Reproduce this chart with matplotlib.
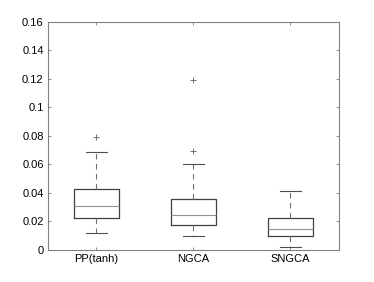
import matplotlib
matplotlib.use("Agg")
import matplotlib.pyplot as plt
from matplotlib.ticker import FuncFormatter

categories = ["PP(tanh)", "NGCA", "SNGCA"]
q1 = [0.0225, 0.0172, 0.0095]
medians = [0.0305, 0.0245, 0.0145]
q3 = [0.0425, 0.0355, 0.0225]
whislo = [0.0122, 0.0095, 0.0020]
whishi = [0.0685, 0.0600, 0.0410]
fliers = [[0.079], [0.0695, 0.119], []]
yticks = [0, 0.02, 0.04, 0.06, 0.08, 0.1, 0.12, 0.14, 0.16]

plt.rcParams['font.family'] = ['Liberation Sans', 'DejaVu Sans']

fig = plt.figure(figsize=(3.74, 2.82), dpi=100)
ax = fig.add_axes([0.128, 0.1135, 0.778, 0.81])

stats = []
for i, name in enumerate(categories):
    stats.append(dict(label=name, q1=q1[i], med=medians[i], q3=q3[i],
                      whislo=whislo[i], whishi=whishi[i], fliers=fliers[i]))

box_color = "#404040"
ax.bxp(stats, positions=[1, 2, 3], widths=0.46, showfliers=True,
       boxprops=dict(color=box_color, linewidth=0.9),
       medianprops=dict(color="#909090", linewidth=0.8),
       whiskerprops=dict(color="#707070", linewidth=0.8, linestyle=(0, (5, 4))),
       capprops=dict(color="#505050", linewidth=0.8),
       flierprops=dict(marker="+", markeredgecolor="#707070", markersize=5, markeredgewidth=0.7),
       capwidths=0.22)

ax.set_xlim(0.5, 3.5)
ax.set_ylim(0, 0.16)
ax.set_yticks(yticks)
ax.yaxis.set_major_formatter(FuncFormatter(lambda v, p: ("%g" % round(v, 4))))
ax.set_xticks([1, 2, 3])
ax.set_xticklabels(categories)
ax.tick_params(direction="in", length=2.5, width=0.6, colors="#808080",
               labelcolor="black", labelsize=8, top=True, right=True, pad=3)
for s in ax.spines.values():
    s.set_color("#808080")
    s.set_linewidth(0.8)

fig.savefig("out.png", dpi=100)
